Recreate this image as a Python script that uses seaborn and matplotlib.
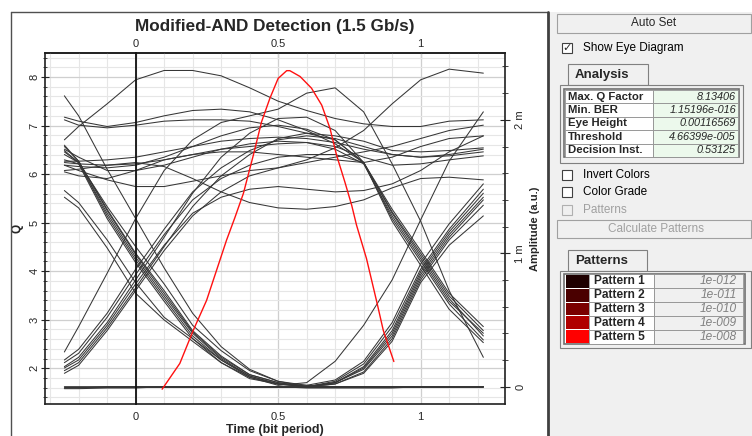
import numpy as np
import pandas as pd
import seaborn as sns
import matplotlib.pyplot as plt
from matplotlib.patches import Rectangle
from matplotlib.ticker import MultipleLocator, FixedLocator

# sample times of every sweep (bit periods)
t_grid = [-0.25, -0.2, -0.1, 0.0, 0.1, 0.2, 0.3, 0.4, 0.5, 0.6, 0.7, 0.8, 0.9, 1.0, 1.1, 1.22]

# eye diagram sweeps, amplitude in mV (right axis)
top_arc_left = [1.85, 1.95, 2.12, 2.30, 2.37, 2.37, 2.33, 2.24, 2.14, 2.07, 2.01, 1.97, 1.95, 1.95, 1.99, 2.00]
flat_high = [2.00, 1.96, 1.94, 1.96, 1.99, 2.00, 2.00, 1.99, 1.95, 1.90, 1.88, 1.84, 1.77, 1.76, 1.77, 1.79]
top_arc_right = [1.66, 1.62, 1.55, 1.50, 1.50, 1.54, 1.58, 1.62, 1.64, 1.70, 1.79, 1.92, 2.12, 2.30, 2.38, 2.35]
fall_cross = [2.18, 2.03, 1.63, 1.26, 0.89, 0.55, 0.30, 0.13, 0.04, 0.00, 0.03, 0.13, 0.38, 0.82, 1.12, 1.40]
rise_cross = [0.26, 0.45, 0.85, 1.26, 1.62, 1.85, 1.98, 2.03, 2.08, 2.20, 2.24, 2.06, 1.67, 1.24, 0.72, 0.22]
slow_fall_a = [1.47, 1.38, 1.10, 0.78, 0.52, 0.36, 0.20, 0.07, 0.01, 0.03, 0.19, 0.46, 0.80, 1.25, 1.69, 2.06]
slow_fall_b = [1.42, 1.34, 1.04, 0.70, 0.50, 0.34, 0.18, 0.06, 0.02, 0.00, 0.00, 0.00, 0.00, 0.00, 0.00, 0.00]
fall_rise_1 = [1.80, 1.69, 1.33, 1.00, 0.72, 0.42, 0.23, 0.09, 0.03, 0.00, 0.03, 0.14, 0.40, 0.84, 1.14, 1.42]
fall_rise_2 = [1.76, 1.68, 1.30, 0.97, 0.68, 0.40, 0.21, 0.08, 0.02, 0.00, 0.04, 0.17, 0.45, 0.88, 1.18, 1.48]
fall_rise_3 = [1.70, 1.67, 1.26, 0.93, 0.64, 0.36, 0.18, 0.07, 0.02, 0.00, 0.02, 0.11, 0.36, 0.80, 1.10, 1.36]
fall_rise_4 = [1.74, 1.68, 1.35, 1.05, 0.77, 0.46, 0.27, 0.12, 0.04, 0.01, 0.05, 0.19, 0.48, 0.92, 1.22, 1.52]
fall_zero_1 = [1.81, 1.69, 1.32, 0.99, 0.70, 0.41, 0.22, 0.09, 0.03, 0.00, 0.00, 0.00, 0.00, 0.00, 0.00, 0.00]
fall_zero_2 = [1.77, 1.68, 1.28, 0.95, 0.66, 0.38, 0.20, 0.08, 0.02, 0.01, 0.00, 0.00, 0.00, 0.00, 0.00, 0.00]
zero_1 = [0.00, 0.00, 0.00, 0.00, 0.00, 0.00, 0.00, 0.00, 0.00, 0.00, 0.00, 0.00, 0.00, 0.00, 0.00, 0.00]
zero_2 = [-0.015, -0.015, -0.01, -0.01, 0.00, 0.00, 0.00, 0.00, 0.00, -0.01, -0.01, -0.01, -0.01, 0.00, 0.00, 0.00]
zero_rise_1 = [0.00, 0.00, 0.00, 0.00, 0.00, 0.00, 0.00, 0.00, 0.00, 0.00, 0.03, 0.15, 0.42, 0.86, 1.16, 1.45]
zero_rise_2 = [-0.01, -0.01, 0.00, 0.00, 0.00, 0.00, 0.00, 0.00, 0.00, 0.00, 0.02, 0.10, 0.34, 0.78, 1.06, 1.28]
rise_1 = [0.15, 0.22, 0.48, 0.80, 1.12, 1.45, 1.72, 1.90, 2.01, 2.02, 1.92, 1.68, 1.30, 0.98, 0.66, 0.38]
rise_2 = [0.12, 0.18, 0.44, 0.74, 1.05, 1.35, 1.58, 1.74, 1.86, 1.90, 1.85, 1.68, 1.26, 0.94, 0.62, 0.35]
rise_3 = [0.18, 0.25, 0.52, 0.84, 1.14, 1.40, 1.56, 1.66, 1.72, 1.74, 1.74, 1.68, 1.33, 1.02, 0.70, 0.45]
rise_4 = [0.10, 0.16, 0.42, 0.72, 1.02, 1.28, 1.46, 1.58, 1.64, 1.68, 1.72, 1.76, 1.80, 1.86, 1.92, 1.96]
rise_5 = [0.20, 0.28, 0.55, 0.88, 1.18, 1.46, 1.64, 1.77, 1.85, 1.88, 1.86, 1.80, 1.74, 1.72, 1.74, 1.78]
rise_6 = [0.14, 0.20, 0.46, 0.77, 1.06, 1.30, 1.42, 1.48, 1.50, 1.48, 1.46, 1.47, 1.52, 1.62, 1.76, 1.88]
high_fall_1 = [1.66, 1.65, 1.64, 1.66, 1.72, 1.80, 1.88, 1.94, 1.96, 1.93, 1.85, 1.68, 1.24, 0.91, 0.58, 0.33]
high_fall_2 = [2.02, 1.99, 1.95, 1.98, 2.03, 2.07, 2.08, 2.06, 2.00, 1.92, 1.82, 1.68, 1.31, 1.00, 0.68, 0.42]
high_fall_3 = [1.78, 1.72, 1.62, 1.62, 1.66, 1.72, 1.78, 1.82, 1.84, 1.83, 1.78, 1.67, 1.28, 0.96, 0.64, 0.40]
mid_1 = [1.69, 1.69, 1.70, 1.72, 1.76, 1.80, 1.84, 1.86, 1.87, 1.86, 1.83, 1.78, 1.74, 1.72, 1.73, 1.76]
mid_2 = [1.68, 1.67, 1.66, 1.67, 1.70, 1.74, 1.78, 1.80, 1.82, 1.83, 1.80, 1.72, 1.66, 1.67, 1.70, 1.73]
mid_3 = [1.61, 1.58, 1.56, 1.62, 1.70, 1.74, 1.76, 1.76, 1.74, 1.72, 1.70, 1.68, 1.72, 1.80, 1.86, 1.88]
valley = [1.62, 1.63, 1.66, 1.68, 1.65, 1.56, 1.46, 1.38, 1.34, 1.33, 1.35, 1.40, 1.49, 1.56, 1.57, 1.55]

eye_traces = {
    'top_arc_left': top_arc_left, 'flat_high': flat_high, 'top_arc_right': top_arc_right,
    'fall_cross': fall_cross, 'rise_cross': rise_cross,
    'slow_fall_a': slow_fall_a, 'slow_fall_b': slow_fall_b,
    'fall_rise_1': fall_rise_1, 'fall_rise_2': fall_rise_2,
    'fall_rise_3': fall_rise_3, 'fall_rise_4': fall_rise_4,
    'fall_zero_1': fall_zero_1, 'fall_zero_2': fall_zero_2,
    'zero_1': zero_1, 'zero_2': zero_2,
    'zero_rise_1': zero_rise_1, 'zero_rise_2': zero_rise_2,
    'rise_1': rise_1, 'rise_2': rise_2, 'rise_3': rise_3,
    'rise_4': rise_4, 'rise_5': rise_5, 'rise_6': rise_6,
    'high_fall_1': high_fall_1, 'high_fall_2': high_fall_2, 'high_fall_3': high_fall_3,
    'mid_1': mid_1, 'mid_2': mid_2, 'mid_3': mid_3, 'valley': valley,
}

# Q factor vs decision time (red curve, left axis)
q_time = [0.093, 0.155, 0.202, 0.249, 0.284, 0.319, 0.348, 0.378, 0.413, 0.442, 0.471, 0.500, 0.530,
          0.541, 0.577, 0.617, 0.653, 0.682, 0.705, 0.734, 0.758, 0.775, 0.810, 0.846, 0.869, 0.906]
q_value = [1.57, 2.10, 2.78, 3.40, 4.02, 4.64, 5.10, 5.60, 6.39, 7.08, 7.56, 7.97, 8.13,
           8.13, 8.01, 7.77, 7.42, 6.94, 6.39, 5.84, 5.36, 4.95, 4.26, 3.37, 2.78, 2.14]

# side panel contents
analysis_names = ['Max. Q Factor', 'Min. BER', 'Eye Height', 'Threshold', 'Decision Inst.']
analysis_values = ['8.13406', '1.15196e-016', '0.00116569', '4.66399e-005', '0.53125']
pattern_names = ['Pattern 1', 'Pattern 2', 'Pattern 3', 'Pattern 4', 'Pattern 5']
pattern_levels = ['1e-012', '1e-011', '1e-010', '1e-009', '1e-008']
pattern_colors = ['#1e0000', '#4a0000', '#7a0000', '#b00000', '#ff0000']

sns.set_style('white')
plt.rcParams['font.family'] = ['Liberation Sans', 'DejaVu Sans']

W, H = 752, 436
fig = plt.figure(figsize=(W / 100, H / 100), dpi=100)


def fx(px):
    return px / W


def fy(py):
    return 1 - py / H


def box(x0, y0, x1, y1, **kw):
    fig.add_artist(Rectangle((fx(x0), fy(y1)), fx(x1) - fx(x0), fy(y0) - fy(y1),
                             transform=fig.transFigure, **kw))


def label(x, y, s, **kw):
    fig.text(fx(x), fy(y), s, **kw)


# long-form table of the sweeps for seaborn
eye_df = pd.DataFrame({
    'time': np.tile(t_grid, len(eye_traces)),
    'amp': np.concatenate([eye_traces[k] for k in eye_traces]),
    'trace': np.repeat(list(eye_traces.keys()), len(t_grid)),
})
q_df = pd.DataFrame({'time': q_time, 'Q': q_value})

rect = [fx(45), fy(404), fx(505) - fx(45), fy(53) - fy(404)]
ax = fig.add_axes(rect)
ax.set_xlim(-0.318, 1.296)
ax.set_ylim(1.265, 8.494)

# grid: every 0.1 bit period, every 0.2 in Q
ax.xaxis.set_major_locator(FixedLocator([0, 0.5, 1]))
ax.xaxis.set_minor_locator(MultipleLocator(0.1))
ax.yaxis.set_major_locator(MultipleLocator(1))
ax.yaxis.set_minor_locator(MultipleLocator(0.2))
ax.grid(which='major', color='#cfcfcf', lw=0.9)
ax.grid(which='minor', color='#e6e6e6', lw=0.8)
ax.set_axisbelow(True)
ax.set_xticklabels(['0', '0.5', '1'])
ax.tick_params(axis='x', which='both', direction='out', labelsize=8, pad=2)
ax.tick_params(axis='x', which='major', length=4)
ax.tick_params(axis='x', which='minor', length=2)
ax.tick_params(axis='y', which='both', direction='inout', labelsize=8, pad=1)
ax.tick_params(axis='y', which='major', length=6)
ax.tick_params(axis='y', which='minor', length=3)
for lab in ax.get_yticklabels():
    lab.set_rotation(90)
    lab.set_va('center')
ax.set_xlabel('Time (bit period)', fontsize=9, fontweight='bold', labelpad=1)
ax.set_ylabel('Q', fontsize=8.5, fontweight='bold', labelpad=4)
ax.set_title('Modified-AND Detection (1.5 Gb/s)', fontsize=12.3, fontweight='bold', y=1.062, pad=0)
for sp in ax.spines.values():
    sp.set_color('#202020')
    sp.set_linewidth(1.2)

# top time axis, ticks pointing in
top = ax.secondary_xaxis('top')
top.xaxis.set_major_locator(FixedLocator([0, 0.5, 1]))
top.xaxis.set_minor_locator(MultipleLocator(0.1))
top.set_xticklabels(['0', '0.5', '1'])
top.tick_params(axis='x', which='both', direction='in', labelsize=8, pad=3)
top.tick_params(axis='x', which='major', length=4)
top.tick_params(axis='x', which='minor', length=2)
top.spines['top'].set_color('#202020')
top.spines['top'].set_linewidth(1.2)

# eye diagram on the amplitude axis
ax2 = ax.twinx()
sns.lineplot(data=eye_df, x='time', y='amp', units='trace', estimator=None, sort=False,
             color='#363636', lw=0.75, legend=False, ax=ax2)
ax2.set_ylim(-0.13, 2.501)
ax2.yaxis.set_major_locator(FixedLocator([0, 1, 2]))
ax2.yaxis.set_minor_locator(MultipleLocator(0.2))
ax2.set_yticklabels(['0', '1 m', '2 m'])
ax2.tick_params(axis='y', which='both', direction='inout', labelsize=8, pad=4)
ax2.tick_params(axis='y', which='major', length=7)
ax2.tick_params(axis='y', which='minor', length=4)
for lab in ax2.get_yticklabels():
    lab.set_rotation(90)
    lab.set_va('center')
ax2.set_ylabel('Amplitude (a.u.)', fontsize=8, fontweight='bold', labelpad=3)
ax2.set_xlabel('')
for sp in ax2.spines.values():
    sp.set_visible(False)

# axis line through t = 0 with its own ticks, plus the Q curve on top
ax0 = fig.add_axes(rect)
ax0.patch.set_visible(False)
ax0.set_xlim(ax.get_xlim())
ax0.set_ylim(ax.get_ylim())
sns.lineplot(data=q_df, x='time', y='Q', color='#ff1010', lw=1.0, sort=False, ax=ax0)
for name in ['right', 'top', 'bottom']:
    ax0.spines[name].set_visible(False)
ax0.spines['left'].set_position(('data', 0))
ax0.spines['left'].set_color('#101010')
ax0.spines['left'].set_linewidth(1.3)
ax0.yaxis.set_major_locator(MultipleLocator(1))
ax0.yaxis.set_minor_locator(MultipleLocator(0.2))
ax0.tick_params(axis='y', which='both', direction='inout', labelleft=False)
ax0.tick_params(axis='y', which='major', length=6)
ax0.tick_params(axis='y', which='minor', length=4)
ax0.tick_params(axis='x', which='both', bottom=False, labelbottom=False)
ax0.set_xlabel('')
ax0.set_ylabel('')

# window frame and side panel
fig.add_artist(plt.Line2D([fx(11), fx(11)], [fy(12), fy(436)], transform=fig.transFigure,
                          color='#505050', lw=1))
fig.add_artist(plt.Line2D([fx(11), fx(548)], [fy(12), fy(12)], transform=fig.transFigure,
                          color='#505050', lw=1))
box(548, 12, 752, 437, facecolor='#f0f0f0', edgecolor='none')
fig.add_artist(plt.Line2D([fx(548), fx(548)], [fy(12), fy(436)], transform=fig.transFigure,
                          color='#404040', lw=2))

small = dict(fontsize=8.5, va='center')

# Auto Set button
box(557, 14, 751, 33, facecolor='#f0f0f0', edgecolor='#a0a0a0', lw=0.8)
label(654, 23.5, 'Auto Set', ha='center', **small)

# check boxes


def checkbox(y, text, checked=False, enabled=True):
    edge = '#404040' if enabled else '#b0b0b0'
    box(562, y - 5, 572, y + 5, facecolor='white' if enabled else '#f0f0f0', edgecolor=edge, lw=0.8)
    if checked:
        label(567, y + 0.5, '\u2713', ha='center', fontsize=8, fontweight='bold',
              family='DejaVu Sans', va='center')
    label(583, y, text, ha='left', color='black' if enabled else '#a0a0a0', **small)


checkbox(48, 'Show Eye Diagram', checked=True)
checkbox(175, 'Invert Colors')
checkbox(192, 'Color Grade')
checkbox(210, 'Patterns', enabled=False)

# Analysis tab and table
box(568, 64, 648, 85, facecolor='#f0f0f0', edgecolor='#808080', lw=0.8)
label(575, 75, 'Analysis', ha='left', fontsize=9.5, fontweight='bold', va='center')
box(560, 85, 743, 163, facecolor='#f0f0f0', edgecolor='#808080', lw=0.8)
box(564, 89, 739, 157, facecolor='white', edgecolor='#707070', lw=1.2)
row_h = 13.4
for i, (n, v) in enumerate(zip(analysis_names, analysis_values)):
    y0 = 90 + i * row_h
    box(565, y0, 653, y0 + row_h, facecolor='white', edgecolor='#909090', lw=0.6)
    box(653, y0, 738, y0 + row_h, facecolor='#ecf9ec', edgecolor='#909090', lw=0.6)
    label(568, y0 + row_h / 2, n, ha='left', fontsize=8.2, fontweight='bold', va='center')
    label(736, y0 + row_h / 2, v, ha='right', fontsize=7.8, style='italic', va='center')

# Calculate Patterns button
box(557, 220, 751, 238, facecolor='#f0f0f0', edgecolor='#a0a0a0', lw=0.8)
label(656, 229, 'Calculate Patterns', ha='center', color='#a0a0a0', **small)

# Patterns tab and table
box(568, 250, 647, 271, facecolor='#f0f0f0', edgecolor='#808080', lw=0.8)
label(575, 261, 'Patterns', ha='left', fontsize=9.5, fontweight='bold', va='center')
box(560, 271, 751, 348, facecolor='#f0f0f0', edgecolor='#808080', lw=0.8)
box(564, 274, 745, 344, facecolor='white', edgecolor='#707070', lw=1.2)
row_h = 13.8
for i, (n, v, c) in enumerate(zip(pattern_names, pattern_levels, pattern_colors)):
    y0 = 274.5 + i * row_h
    box(566, y0 + 0.5, 589, y0 + row_h - 0.5, facecolor=c, edgecolor='none')
    box(589, y0, 654, y0 + row_h, facecolor='white', edgecolor='#909090', lw=0.6)
    box(654, y0, 743, y0 + row_h, facecolor='#f0f0f0', edgecolor='#909090', lw=0.6)
    label(594, y0 + row_h / 2, n, ha='left', fontsize=8.6, fontweight='bold', va='center')
    label(737, y0 + row_h / 2, v, ha='right', fontsize=8.6, style='italic', color='#808080',
          va='center')

fig.savefig('out.png', dpi=100)
